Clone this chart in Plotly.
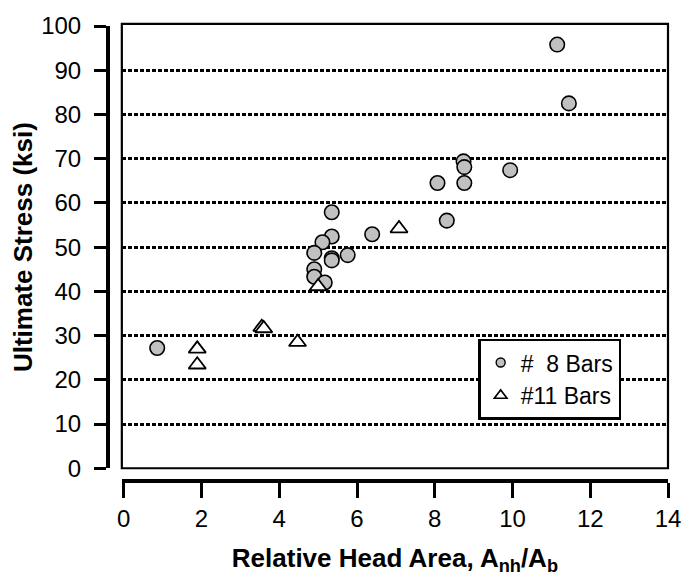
import plotly.graph_objects as go

# #8 bars (circles)
bar8_x = [0.86, 11.15, 11.45, 8.74, 8.76, 9.94, 8.07, 8.76, 8.31, 5.35,
          6.39, 5.35, 5.11, 4.90, 5.76, 5.35, 5.35, 4.90, 4.90, 5.17]
bar8_y = [27.2, 95.8, 82.5, 69.4, 68.1, 67.4, 64.5, 64.5, 56.0, 57.9,
          52.9, 52.4, 51.1, 48.7, 48.2, 47.5, 47.0, 45.0, 43.3, 42.0]
# #11 bars (triangles)
bar11_x = [1.89, 1.89, 3.55, 3.60, 4.47, 5.00, 7.08]
bar11_y = [27.0, 23.4, 31.9, 31.6, 28.5, 41.1, 54.2]

x_ticks = list(range(0, 15, 2))
y_ticks = list(range(0, 101, 10))
grid_vals = list(range(10, 91, 10))

FONT = "Arial, Liberation Sans, sans-serif"

fig = go.Figure()
fig.add_trace(go.Scatter(
    x=bar8_x, y=bar8_y, mode="markers", name="#\u00a0\u00a08 Bars", showlegend=False,
    marker=dict(symbol="circle", size=14.5, color="#c0c0c0", line=dict(color="black", width=1.6)),
))
fig.add_trace(go.Scatter(
    x=bar11_x, y=bar11_y, mode="markers", name="#11 Bars", showlegend=False,
    marker=dict(symbol="triangle-up", size=15, color="white", line=dict(color="black", width=1.8)),
))
# legend entries (small symbols as in the reference legend)
fig.add_trace(go.Scatter(
    x=[None], y=[None], mode="markers", name="#\u00a0\u00a08 Bars",
    marker=dict(symbol="circle", size=9, color="#c0c0c0", line=dict(color="black", width=1.4)),
))
fig.add_trace(go.Scatter(
    x=[None], y=[None], mode="markers", name="#11 Bars",
    marker=dict(symbol="triangle-up", size=11, color="white", line=dict(color="black", width=1.6)),
))
# empty trace so the grid-line axis is drawn
fig.add_trace(go.Scatter(x=[None], y=[None], yaxis="y2", showlegend=False, hoverinfo="skip"))

fig.update_layout(
    width=693, height=579,
    margin=dict(l=108, r=18, t=12, b=96),
    plot_bgcolor="white", paper_bgcolor="white",
    font=dict(family=FONT, color="black"),
    xaxis=dict(
        range=[-0.05, 14], domain=[0.0247, 1], anchor="free", position=0,
        tickvals=x_ticks, ticks="outside", ticklen=15, tickwidth=2.5, tickcolor="black",
        showline=True, linewidth=4, linecolor="black", showgrid=False, zeroline=False,
        tickfont=dict(size=24, family=FONT), ticklabeloverflow="allow",
        title=dict(text="<b>Relative Head Area, A<sub>nh</sub>/A<sub>b</sub></b>",
                   font=dict(size=26, family=FONT), standoff=17),
    ),
    yaxis=dict(
        range=[0, 100], domain=[0.028, 1], anchor="free", position=0,
        tickvals=y_ticks, ticks="outside", ticklen=12, tickwidth=2.5, tickcolor="black",
        showline=True, linewidth=4, linecolor="black", showgrid=False, zeroline=False,
        tickfont=dict(size=24, family=FONT), ticklabelstandoff=8, ticklabeloverflow="allow",
        title=dict(text="<b>Ultimate Stress (ksi)</b>", font=dict(size=26, family=FONT), standoff=0),
    ),
    yaxis2=dict(
        range=[0, 100], domain=[0.028, 1], overlaying="y", anchor="x", side="left",
        tickvals=grid_vals, showticklabels=False, ticks="", showline=False, zeroline=False,
        showgrid=True, gridcolor="black", gridwidth=3, griddash="4px,2px",
    ),
    legend=dict(
        x=0.661, y=0.313, xanchor="left", yanchor="top",
        bgcolor="white", bordercolor="black", borderwidth=2.5,
        font=dict(size=23, family=FONT), tracegroupgap=0, itemwidth=30,
        entrywidth=120, entrywidthmode="pixels",
    ),
    shapes=[dict(type="rect", xref="x domain", yref="y domain", x0=0, x1=1, y0=0, y1=1.005,
                 line=dict(color="black", width=2.2), layer="above")],
)

fig.write_html("out.html", config={"displayModeBar": False},
               post_script="document.body.style.margin='0';")
